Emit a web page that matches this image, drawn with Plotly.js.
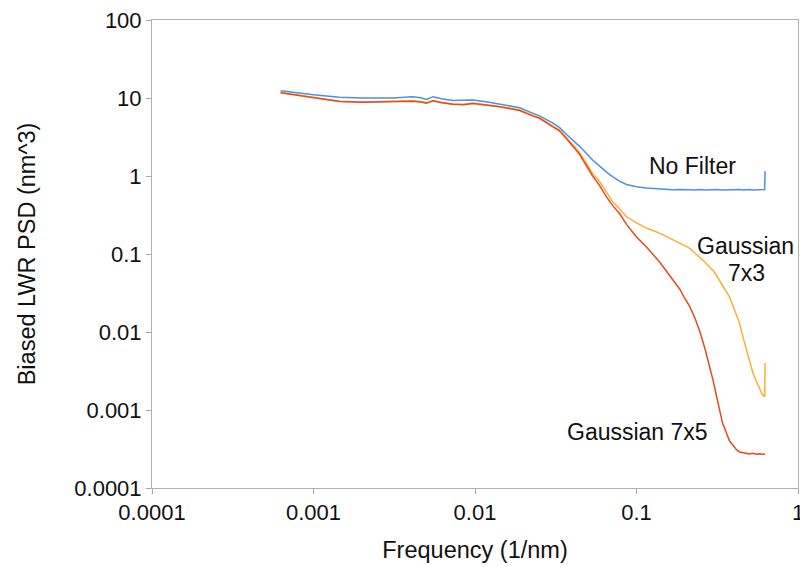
<!DOCTYPE html>
<html>
<head>
<meta charset="utf-8">
<script src="https://cdn.plot.ly/plotly-3.0.1.min.js"></script>
<style>
  html, body { margin: 0; padding: 0; background: #ffffff; }
  #chart { width: 800px; height: 567px; }
</style>
</head>
<body>
<div id="chart"></div>
<script>
// Frequency (1/nm)
const freq = [0.000625, 0.0008, 0.001, 0.00145, 0.002, 0.0031, 0.0041, 0.0046, 0.005, 0.0055,
  0.0062, 0.0073, 0.0085, 0.0097, 0.012, 0.0142, 0.0165, 0.0189, 0.0227, 0.0251,
  0.0302, 0.0333, 0.0369, 0.0444, 0.0535, 0.059, 0.0652, 0.071, 0.0785, 0.0867,
  0.1, 0.115, 0.139, 0.153, 0.167, 0.185, 0.2, 0.213, 0.23, 0.246,
  0.265, 0.283, 0.298, 0.313, 0.341, 0.377, 0.416, 0.434, 0.46, 0.48,
  0.501, 0.523, 0.553, 0.578, 0.6, 0.622, 0.625];

// Biased LWR PSD (nm^3)
const noFilter = [12.4, 11.6, 11.0, 10.2, 10.0, 10.0, 10.4, 10.1, 9.6, 10.4,
  9.8, 9.3, 9.3, 9.4, 8.9, 8.4, 8.0, 7.5, 6.4, 5.9,
  4.8, 4.2, 3.4, 2.4, 1.6, 1.33, 1.12, 0.98, 0.86, 0.78,
  0.73, 0.70, 0.68, 0.67, 0.665, 0.67, 0.66, 0.665, 0.66, 0.67,
  0.66, 0.665, 0.66, 0.67, 0.66, 0.665, 0.66, 0.67, 0.66, 0.665,
  0.67, 0.66, 0.665, 0.67, 0.66, 0.67, 1.15];

const gauss7x3 = [11.8, 10.9, 10.1, 9.1, 8.9, 9.0, 9.2, 9.0, 8.7, 9.3,
  8.8, 8.4, 8.3, 8.6, 8.2, 7.8, 7.4, 7.0, 6.0, 5.6,
  4.4, 3.9, 3.1, 2.0, 1.08, 0.85, 0.62, 0.47, 0.38, 0.30,
  0.25, 0.215, 0.185, 0.168, 0.155, 0.14, 0.128, 0.119, 0.103, 0.0916,
  0.0789, 0.068, 0.0614, 0.053, 0.040, 0.028, 0.0165, 0.013, 0.0081, 0.0059,
  0.0043, 0.0031, 0.0023, 0.00186, 0.0016, 0.00148, 0.0040];

const gauss7x5 = [11.7, 10.8, 10.0, 9.0, 8.8, 8.9, 9.1, 8.9, 8.6, 9.2,
  8.7, 8.3, 8.2, 8.5, 8.1, 7.7, 7.3, 6.9, 5.9, 5.5,
  4.3, 3.8, 3.0, 1.9, 1.0, 0.76, 0.54, 0.42, 0.33, 0.24,
  0.165, 0.124, 0.079, 0.0605, 0.0478, 0.0356, 0.0265, 0.0215, 0.0151, 0.0103,
  0.0062, 0.0037, 0.0024, 0.0015, 0.00068, 0.00040, 0.00031, 0.00029, 0.000285, 0.00028,
  0.000272, 0.000278, 0.00027, 0.000275, 0.00027, 0.000272, 0.000272];

const xTickVals = [0.0001, 0.001, 0.01, 0.1, 1];
const xTickText = ['0.0001', '0.001', '0.01', '0.1', '1'];
const yTickVals = [0.0001, 0.001, 0.01, 0.1, 1, 10, 100];
const yTickText = ['0.0001', '0.001', '0.01', '0.1', '1', '10', '100'];

const seriesNames = ['No Filter', 'Gaussian 7x3', 'Gaussian 7x5'];
const seriesColors = ['#4a8fe8', '#ffad33', '#e54b1f'];

const font = 'Liberation Sans, Arial, sans-serif';

const traces = [noFilter, gauss7x3, gauss7x5].map((vals, i) => ({
  type: 'scatter',
  mode: 'lines',
  x: freq,
  y: vals,
  name: seriesNames[i],
  line: { color: seriesColors[i], width: 1.5 },
  hoverinfo: 'x+y+name'
}));

const layout = {
  width: 800,
  height: 567,
  paper_bgcolor: '#ffffff',
  plot_bgcolor: '#ffffff',
  showlegend: false,
  margin: { l: 152, r: 2, t: 20, b: 79 },
  font: { family: font, size: 22, color: '#111111' },
  xaxis: {
    type: 'log',
    range: [-4, 0],
    tickmode: 'array',
    tickvals: xTickVals,
    ticktext: xTickText,
    ticks: 'outside',
    ticklen: 5,
    tickcolor: '#a6a6a6',
    showline: true,
    linecolor: '#b0b0b0',
    linewidth: 1,
    mirror: true,
    showgrid: false,
    zeroline: false,
    ticklabeloverflow: 'allow',
    tickfont: { family: font, size: 22, color: '#111111' },
    title: { text: 'Frequency (1/nm)', font: { family: font, size: 23.5, color: '#111111' }, standoff: 17 }
  },
  yaxis: {
    type: 'log',
    range: [-4, 2],
    tickmode: 'array',
    tickvals: yTickVals,
    ticktext: yTickText,
    ticks: 'outside',
    ticklen: 5,
    tickcolor: '#a6a6a6',
    showline: true,
    linecolor: '#b0b0b0',
    linewidth: 1,
    mirror: true,
    showgrid: false,
    zeroline: false,
    ticklabeloverflow: 'allow',
    tickfont: { family: font, size: 22, color: '#111111' },
    title: { text: 'Biased LWR PSD (nm^3)', font: { family: font, size: 23.5, color: '#111111' }, standoff: 32 }
  },
  annotations: [
    { text: 'No Filter', xref: 'paper', yref: 'paper', x: 0.837, y: 0.688,
      xanchor: 'center', yanchor: 'middle', showarrow: false,
      font: { family: font, size: 23, color: '#111111' } },
    { text: 'Gaussian', xref: 'paper', yref: 'paper', x: 0.918, y: 0.517,
      xanchor: 'center', yanchor: 'middle', showarrow: false,
      font: { family: font, size: 23, color: '#111111' } },
    { text: '7x3', xref: 'paper', yref: 'paper', x: 0.92, y: 0.459,
      xanchor: 'center', yanchor: 'middle', showarrow: false,
      font: { family: font, size: 23, color: '#111111' } },
    { text: 'Gaussian 7x5', xref: 'paper', yref: 'paper', x: 0.752, y: 0.12,
      xanchor: 'center', yanchor: 'middle', showarrow: false,
      font: { family: font, size: 23, color: '#111111' } }
  ]
};

Plotly.newPlot('chart', traces, layout, { displayModeBar: false, staticPlot: true });
</script>
</body>
</html>
